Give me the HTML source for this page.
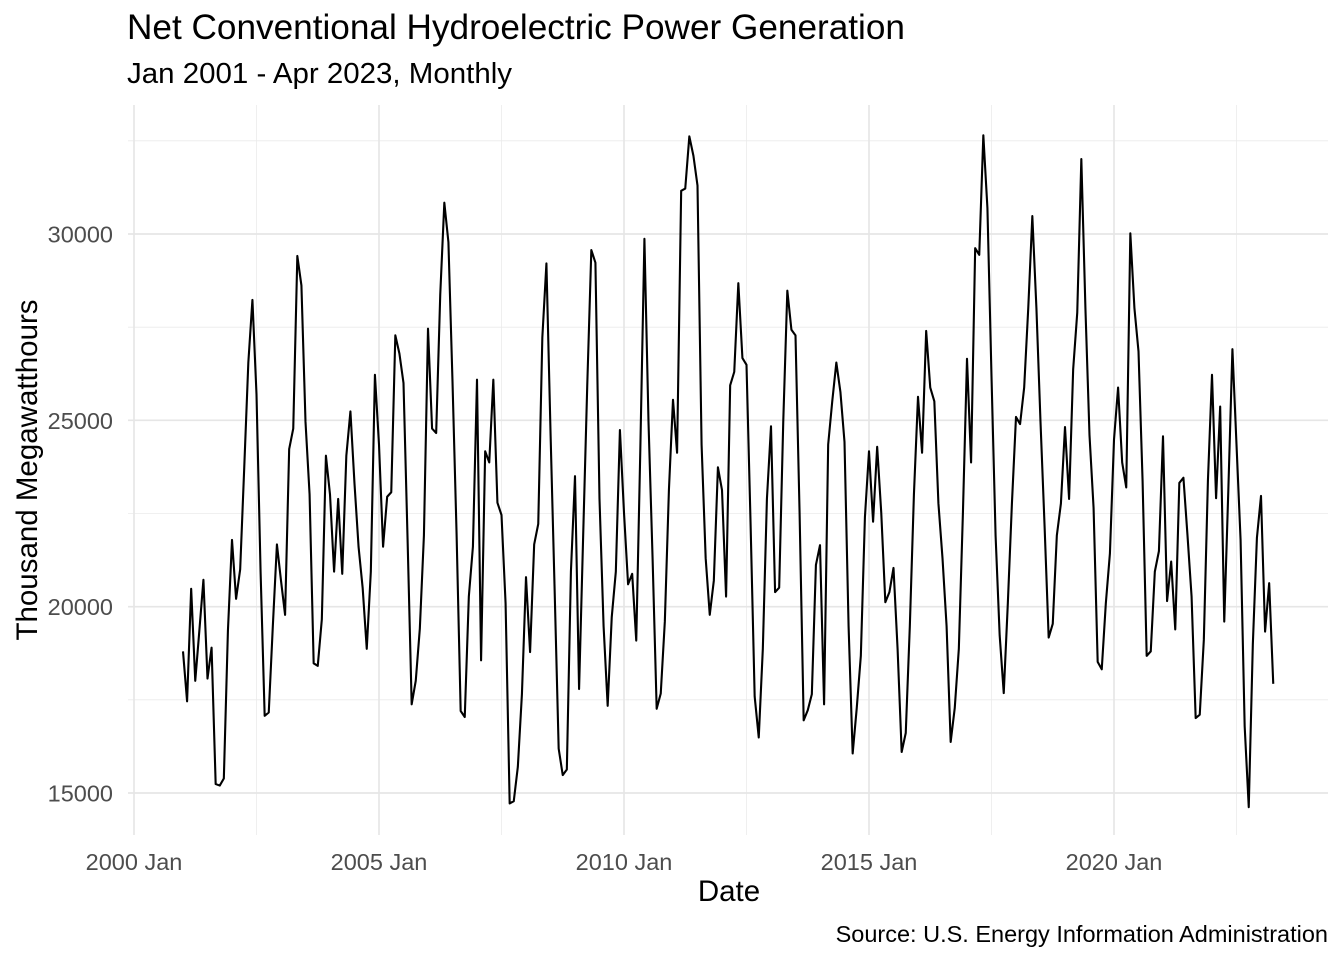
<!DOCTYPE html>
<html>
<head>
<meta charset="utf-8">
<style>
  html,body{margin:0;padding:0;background:#fff;}
  svg{display:block;font-family:"Liberation Sans",Arial,sans-serif;}
</style>
</head>
<body>
<svg id="chart" width="1344" height="960" viewBox="0 0 1344 960" xmlns="http://www.w3.org/2000/svg">
  <rect x="0" y="0" width="1344" height="960" fill="#ffffff"/>
  <g id="grid"></g>
  <g id="series"></g>
  <g id="axes"></g>
  <text x="127" y="39" font-size="35" fill="#000" textLength="778" lengthAdjust="spacingAndGlyphs">Net Conventional Hydroelectric Power Generation</text>
  <text x="127" y="83" font-size="29" fill="#000" textLength="385" lengthAdjust="spacingAndGlyphs">Jan 2001 - Apr 2023, Monthly</text>
  <text x="729" y="901" font-size="29.5" fill="#000" text-anchor="middle">Date</text>
  <text transform="translate(37,470) rotate(-90)" font-size="29.5" fill="#000" text-anchor="middle">Thousand Megawatthours</text>
  <text x="1328" y="942" font-size="23.5" fill="#000" text-anchor="end">Source: U.S. Energy Information Administration</text>
</svg>
<script>
const startYear = 2001;
const startMonth = 0;
const values = [
18.8,17.46,20.48,18.01,19.35,20.72,18.07,18.9,15.24,15.2,15.39,19.35,
21.79,20.21,21.0,23.74,26.55,28.23,25.7,20.94,17.07,17.16,19.48,21.67,
20.7,19.78,24.23,24.78,29.41,28.62,24.96,23.01,18.48,18.41,19.66,24.05,
23.01,20.94,22.89,20.88,24.05,25.24,23.3,21.6,20.5,18.87,20.94,26.22,
24.35,21.61,22.95,23.07,27.28,26.79,26.0,21.8,17.38,18.01,19.41,21.91,
27.46,24.78,24.66,28.38,30.84,29.78,26.04,21.95,17.2,17.04,20.27,21.61,
26.09,18.56,24.17,23.87,26.09,22.79,22.46,20.09,14.72,14.78,15.7,17.65,
20.79,18.78,21.67,22.22,27.22,29.21,24.7,20.5,16.19,15.48,15.63,20.94,
23.5,17.79,21.91,25.94,29.57,29.23,22.89,19.48,17.34,19.72,20.94,24.74,
22.52,20.6,20.88,19.09,24.23,29.87,24.96,21.3,17.26,17.67,19.6,23.13,
25.55,24.13,31.16,31.22,32.62,32.1,31.3,24.35,21.3,19.78,20.7,23.74,
23.13,20.27,25.94,26.3,28.68,26.67,26.49,22.22,17.59,16.49,18.87,22.89,
24.84,20.39,20.51,24.96,28.48,27.43,27.28,22.52,16.95,17.22,17.65,21.12,
21.65,17.38,24.35,25.51,26.55,25.76,24.42,19.48,16.06,17.28,18.68,22.4,
24.17,22.28,24.29,22.52,20.12,20.39,21.04,18.87,16.1,16.61,19.48,23.01,
25.63,24.13,27.4,25.88,25.51,22.77,21.3,19.48,16.37,17.28,18.87,22.52,
26.65,23.87,29.62,29.44,32.65,30.7,26.18,21.91,19.23,17.68,20.09,22.77,
25.09,24.9,25.88,28.01,30.48,28.01,24.96,22.16,19.17,19.54,21.91,22.77,
24.82,22.89,26.37,27.89,32.01,28.01,24.6,22.65,18.52,18.32,20.09,21.43,
24.48,25.88,23.87,23.2,30.02,28.01,26.85,23.38,18.68,18.8,20.94,21.49,
24.57,20.15,21.21,19.39,23.32,23.46,21.91,20.27,17.01,17.1,19.11,23.38,
26.22,22.91,25.37,19.6,23.13,26.91,24.35,21.79,16.79,14.62,18.99,21.85,
22.97,19.33,20.63,17.93
];
const yTicks = [15000, 20000, 25000, 30000];
const yMinor = [17500, 22500, 27500, 32500];
const xTickYears = [2000, 2005, 2010, 2015, 2020];
const xTickLabels = ["2000 Jan", "2005 Jan", "2010 Jan", "2015 Jan", "2020 Jan"];
const xMinorYears = [2002.5, 2007.5, 2012.5, 2017.5, 2022.5];

const NS = "http://www.w3.org/2000/svg";
const panel = {left:128, right:1328, top:105, bottom:835};
function xScale(yearFrac){ return 134 + (yearFrac - 2000) * 49; }
function yScale(v){ return 793 - (v - 15000) * 0.037267; }
function mk(tag, attrs){ const e=document.createElementNS(NS,tag); for(const k in attrs) e.setAttribute(k, attrs[k]); return e; }

const grid = document.getElementById('grid');
const axes = document.getElementById('axes');
const series = document.getElementById('series');

yMinor.forEach(v=>{
  const l = mk('line',{x1:panel.left,x2:panel.right,y1:yScale(v),y2:yScale(v),stroke:'#ebebeb','stroke-width':0.8});
  
  
  grid.appendChild(l);
});
xMinorYears.forEach(yr=>{
  const l = mk('line',{x1:xScale(yr),x2:xScale(yr),y1:panel.top,y2:panel.bottom,stroke:'#ebebeb','stroke-width':0.8});
  
  
  grid.appendChild(l);
});
yTicks.forEach(v=>{
  const l = mk('line',{x1:panel.left,x2:panel.right,y1:yScale(v),y2:yScale(v),stroke:'#e6e6e6','stroke-width':1.7});
  
  
  grid.appendChild(l);
  const t = mk('text',{x:113,y:yScale(v)+8.5,'font-size':23.5,fill:'#4d4d4d','text-anchor':'end'});
  t.textContent = String(v);
  
  
  axes.appendChild(t);
});
xTickYears.forEach((yr,i)=>{
  const l = mk('line',{x1:xScale(yr),x2:xScale(yr),y1:panel.top,y2:panel.bottom,stroke:'#e6e6e6','stroke-width':1.7});
  
  
  grid.appendChild(l);
  const t = mk('text',{x:xScale(yr),y:870,'font-size':23.5,fill:'#4d4d4d','text-anchor':'middle'});
  t.textContent = xTickLabels[i];
  
  
  axes.appendChild(t);
});

const pts = values.map((v,i)=>{
  const yr = startYear + (startMonth + i)/12;
  return xScale(yr).toFixed(2)+','+yScale(v*1000).toFixed(2);
});
const line = mk('polyline',{points:pts.join(' '),fill:'none',stroke:'#000','stroke-width':2.1,'stroke-linejoin':'round'});


series.appendChild(line);
</script>
</body>
</html>
